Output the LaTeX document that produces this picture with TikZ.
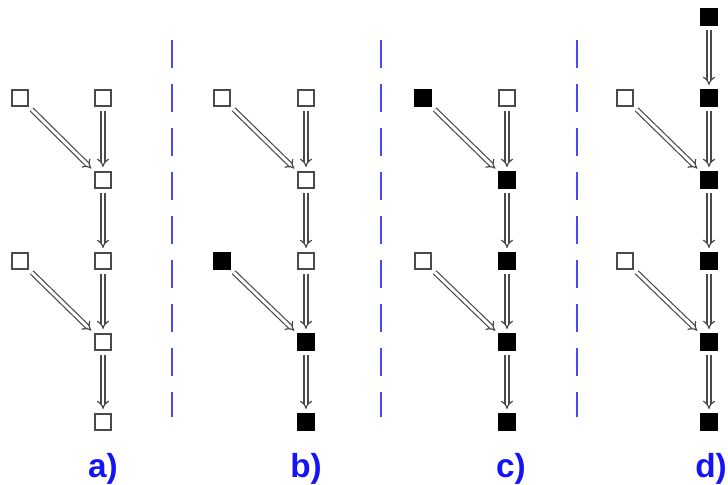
\documentclass[tikz,border=0pt]{standalone}
\usepackage{fontspec}
\setmainfont{Liberation Sans}
\usetikzlibrary{arrows.meta}
\definecolor{lbl}{HTML}{1414F5}
\definecolor{dsh}{HTML}{4A4AF5}
\definecolor{edge}{HTML}{4A4A4A}
\tikzset{
  sq/.style={draw=edge, line width=1.3pt, fill=white, minimum size=12.5pt, inner sep=0pt, outer sep=0pt},
  bsq/.style={sq, draw=black, fill=black},
  dbl/.style={draw=edge, line width=0.9pt, double=white, double distance=2.2pt, -{Implies[scale=1.35]}, shorten >=3.5pt, shorten <=3.5pt},
  sep/.style={draw=dsh, line width=2.2pt, dash pattern=on 21pt off 12pt},
  lab/.style={text=lbl, font=\fontsize{25}{27}\selectfont\bfseries, anchor=base, inner sep=0pt}
}
\begin{document}
\begin{tikzpicture}[x=0.75pt, y=-0.75pt]
\useasboundingbox (0,0) rectangle (728,485);
% panel a
\node[sq] (a1) at (20,98) {};
\node[sq] (a2) at (103,98) {};
\node[sq] (a3) at (103,180) {};
\node[sq] (a4) at (20,261) {};
\node[sq] (a5) at (103,261) {};
\node[sq] (a6) at (103,342) {};
\node[sq] (a7) at (103,422) {};
\draw[dbl] (a1) -- (a3);
\draw[dbl] (a2) -- (a3);
\draw[dbl] (a3) -- (a5);
\draw[dbl] (a4) -- (a6);
\draw[dbl] (a5) -- (a6);
\draw[dbl] (a6) -- (a7);
% panel b
\node[sq] (b1) at (222,98) {};
\node[sq] (b2) at (306,98) {};
\node[sq] (b3) at (306,180) {};
\node[bsq] (b4) at (222,261) {};
\node[sq] (b5) at (306,261) {};
\node[bsq] (b6) at (306,342) {};
\node[bsq] (b7) at (306,422) {};
\draw[dbl] (b1) -- (b3);
\draw[dbl] (b2) -- (b3);
\draw[dbl] (b3) -- (b5);
\draw[dbl] (b4) -- (b6);
\draw[dbl] (b5) -- (b6);
\draw[dbl] (b6) -- (b7);
% panel c
\node[bsq] (c1) at (423,98) {};
\node[sq] (c2) at (507,98) {};
\node[bsq] (c3) at (507,180) {};
\node[sq] (c4) at (423,261) {};
\node[bsq] (c5) at (507,261) {};
\node[bsq] (c6) at (507,342) {};
\node[bsq] (c7) at (507,422) {};
\draw[dbl] (c1) -- (c3);
\draw[dbl] (c2) -- (c3);
\draw[dbl] (c3) -- (c5);
\draw[dbl] (c4) -- (c6);
\draw[dbl] (c5) -- (c6);
\draw[dbl] (c6) -- (c7);
% panel d
\node[bsq] (d0) at (709,17) {};
\node[sq] (d1) at (625,98) {};
\node[bsq] (d2) at (709,98) {};
\node[bsq] (d3) at (709,180) {};
\node[sq] (d4) at (625,261) {};
\node[bsq] (d5) at (709,261) {};
\node[bsq] (d6) at (709,342) {};
\node[bsq] (d7) at (709,422) {};
\draw[dbl] (d0) -- (d2);
\draw[dbl] (d1) -- (d3);
\draw[dbl] (d2) -- (d3);
\draw[dbl] (d3) -- (d5);
\draw[dbl] (d4) -- (d6);
\draw[dbl] (d5) -- (d6);
\draw[dbl] (d6) -- (d7);
% separators
\draw[sep] (172,40) -- (172,417);
\draw[sep] (381,40) -- (381,417);
\draw[sep] (577,40) -- (577,417);
% labels
\node[lab] (la) at (103,477) {a)};
\node[lab] (lb) at (306,477) {b)};
\node[lab] (lc) at (511,477) {c)};
\node[lab] (ld) at (711,477) {d)};
\end{tikzpicture}
\end{document}
